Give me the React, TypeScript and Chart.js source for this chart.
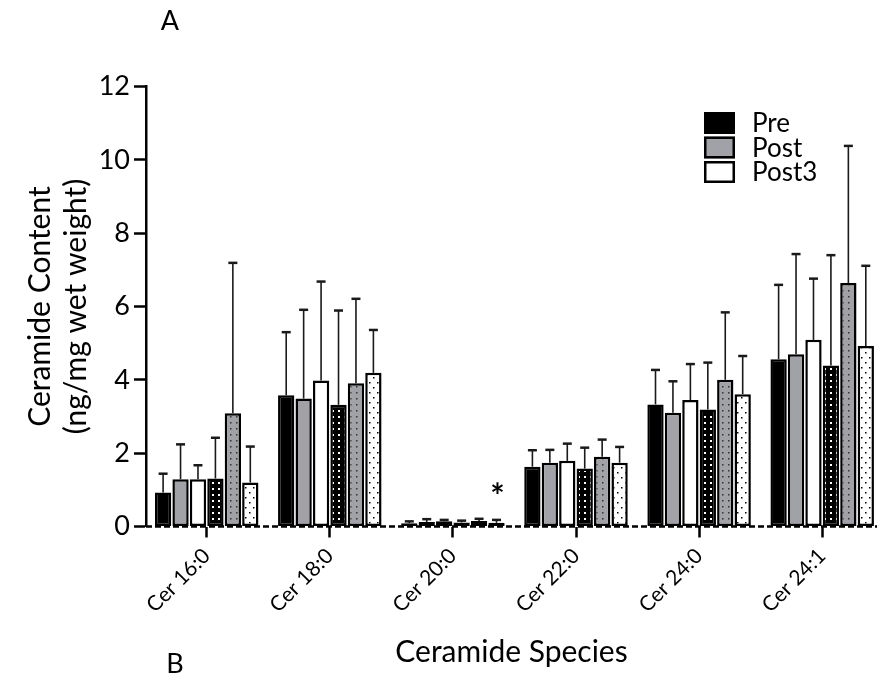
import { useEffect, useRef } from 'react';
import { Chart, registerables } from 'chart.js';

Chart.register(...registerables);

// ---- data ----
const categories = ['Cer 16:0', 'Cer 18:0', 'Cer 20:0', 'Cer 22:0', 'Cer 24:0', 'Cer 24:1'];
const timepoints = ['Pre', 'Post', 'Post3'];
const yTickValues = [0, 2, 4, 6, 8, 10, 12];

// group 1 (solid bars)
const preMean1 = [0.93, 3.58, 0.09, 1.63, 3.33, 4.56];
const postMean1 = [1.29, 3.49, 0.12, 1.74, 3.10, 4.70];
const post3Mean1 = [1.29, 3.98, 0.14, 1.79, 3.45, 5.09];
// group 2 (dotted bars)
const preMean2 = [1.31, 3.32, 0.11, 1.58, 3.19, 4.39];
const postMean2 = [3.09, 3.91, 0.15, 1.90, 4.00, 6.64];
const post3Mean2 = [1.20, 4.19, 0.10, 1.74, 3.61, 4.92];

// standard deviations (upper whiskers)
const preSd1 = [0.51, 1.72, 0.05, 0.45, 0.94, 2.03];
const postSd1 = [0.95, 2.42, 0.08, 0.35, 0.86, 2.73];
const post3Sd1 = [0.38, 2.70, 0.04, 0.47, 0.98, 1.67];
const preSd2 = [1.11, 2.57, 0.05, 0.57, 1.28, 3.01];
const postSd2 = [4.10, 2.30, 0.06, 0.47, 1.84, 3.74];
const post3Sd2 = [0.98, 1.17, 0.08, 0.43, 1.04, 2.19];

// significance marker: group 2 Post3, Cer 20:0
const starSeries = 5;
const starCategory = 2;

const seriesMeans = [preMean1, postMean1, post3Mean1, preMean2, postMean2, post3Mean2];
const seriesSds = [preSd1, postSd1, post3Sd1, preSd2, postSd2, post3Sd2];

// ---- styling ----
const FONT = 'Lato, "Open Sans", sans-serif';
const W = 877;
const H = 675;
const GRAY = '#a1a1a8';

function dotPattern(
  ctx: CanvasRenderingContext2D,
  bg: string,
  dot: string,
  tw: number,
  th: number,
  dots: Array<[number, number, number]>
) {
  const c = document.createElement('canvas');
  c.width = tw;
  c.height = th;
  const g = c.getContext('2d')!;
  g.fillStyle = bg;
  g.fillRect(0, 0, tw, th);
  g.fillStyle = dot;
  for (const [x, y, s] of dots) g.fillRect(x, y, s, s);
  return ctx.createPattern(c, 'repeat')!;
}

const baselinePlugin = {
  id: 'dashedBaseline',
  beforeDatasetsDraw(chart: any) {
    const { ctx, chartArea, scales } = chart;
    const y0 = scales.y.getPixelForValue(0);
    ctx.save();
    ctx.strokeStyle = '#000';
    ctx.lineWidth = 2.5;
    ctx.setLineDash([6, 3]);
    ctx.beginPath();
    ctx.moveTo(chartArea.left, y0);
    ctx.lineTo(chartArea.right, y0);
    ctx.stroke();
    ctx.restore();
  },
};

const errorBarPlugin = {
  id: 'errorBars',
  afterDatasetsDraw(chart: any) {
    const { ctx, scales } = chart;
    ctx.save();
    ctx.strokeStyle = '#1a1a1a';
    seriesMeans.forEach((means, d) => {
      const meta = chart.getDatasetMeta(d);
      meta.data.forEach((bar: any, i: number) => {
        const { x, y } = bar.getProps(['x', 'y'], true);
        const yEnd = scales.y.getPixelForValue(means[i] + seriesSds[d][i]);
        ctx.lineWidth = 1.6;
        ctx.beginPath();
        ctx.moveTo(x, y);
        ctx.lineTo(x, yEnd);
        ctx.stroke();
        ctx.lineWidth = 2.5;
        ctx.beginPath();
        ctx.moveTo(x - 4.5, yEnd);
        ctx.lineTo(x + 4.5, yEnd);
        ctx.stroke();
      });
    });
    ctx.restore();
  },
};

const annotationPlugin = {
  id: 'annotations',
  afterDraw(chart: any) {
    const { ctx, scales } = chart;
    ctx.save();
    ctx.fillStyle = '#000';

    // significance asterisk
    const bar = chart.getDatasetMeta(starSeries).data[starCategory];
    const top = scales.y.getPixelForValue(
      seriesMeans[starSeries][starCategory] + seriesSds[starSeries][starCategory]
    );
    ctx.font = `bold 34px ${FONT}`;
    ctx.textAlign = 'center';
    ctx.textBaseline = 'alphabetic';
    ctx.fillText('*', bar.x + 1, top - 12);

    // legend
    const lx = 704;
    const ly = 112;
    const bw = 31;
    const bh = 22;
    const step = 24.5;
    timepoints.forEach((name, k) => {
      const ds = chart.data.datasets[k];
      const by = ly + k * step;
      ctx.fillStyle = ds.backgroundColor;
      ctx.fillRect(lx, by, bw, bh);
      ctx.strokeStyle = '#000';
      ctx.lineWidth = 2.5;
      ctx.strokeRect(lx + 1.25, by + 1.25, bw - 2.5, bh - 2.5);
      ctx.fillStyle = '#000';
      ctx.font = `26px ${FONT}`;
      ctx.textAlign = 'left';
      ctx.textBaseline = 'middle';
      ctx.fillText(name, 752, by + bh / 2 + 1);
    });

    // panel letters
    ctx.font = `27px ${FONT}`;
    ctx.textAlign = 'center';
    ctx.textBaseline = 'middle';
    ctx.fillText('A', 170, 21);
    ctx.fillText('B', 175, 664);
    ctx.restore();
  },
};

export default function App() {
  const ref = useRef<HTMLCanvasElement>(null);

  useEffect(() => {
    const canvas = ref.current;
    if (!canvas) return;
    const ctx = canvas.getContext('2d')!;

    const fills = [
      '#000000',
      GRAY,
      '#ffffff',
      dotPattern(ctx, '#000000', '#ffffff', 6, 6, [[2, 2, 2]]),
      dotPattern(ctx, GRAY, '#333333', 6, 6, [[2, 2, 1.5]]),
      dotPattern(ctx, '#ffffff', '#000000', 8, 10, [[1, 2, 1.5], [5, 7, 1.5]]),
    ];

    // the category axis is linear so the bar groups can run to the right edge
    const left = 146;
    const unit = 123.1;
    const firstCenter = 206.7;
    const xMin = -(firstCenter - left) / unit;
    const xMax = xMin + (W - left) / unit;

    const chart = new Chart(ctx, {
      type: 'bar',
      data: {
        datasets: seriesMeans.map((means, d) => ({
          label: timepoints[d % 3],
          data: means.map((v, i) => ({ x: i, y: v })),
          backgroundColor: fills[d],
          borderColor: '#000',
          borderWidth: 2.5,
          borderSkipped: false,
          categoryPercentage: 0.85,
          barPercentage: 0.935,
        })),
      },
      options: {
        animation: false,
        responsive: false,
        devicePixelRatio: 1,
        layout: { padding: { top: 86.5, left: 0, right: 0, bottom: 0 } },
        plugins: { legend: { display: false }, tooltip: { enabled: false } },
        scales: {
          x: {
            type: 'linear',
            min: xMin,
            max: xMax,
            bounds: 'data',
            offset: false,
            afterBuildTicks: (axis: any) => {
              axis.ticks = categories.map((_, i) => ({ value: i }));
            },
            afterFit: (axis: any) => {
              axis.height = H - 526.5;
            },
            grid: {
              offset: false,
              drawOnChartArea: false,
              drawTicks: true,
              tickLength: 11,
              tickWidth: 2.5,
              tickColor: '#000',
            },
            border: { display: false },
            ticks: {
              autoSkip: false,
              minRotation: 45,
              maxRotation: 45,
              padding: 6,
              color: '#000',
              font: { family: FONT, size: 21 },
              callback: (v: any) => categories[v] ?? '',
            },
            title: {
              display: true,
              text: 'Ceramide Species',
              color: '#000',
              font: { family: FONT, size: 30 },
              padding: { top: 0, bottom: 5 },
            },
          },
          y: {
            min: 0,
            max: 12,
            afterBuildTicks: (axis: any) => {
              axis.ticks = yTickValues.map((value) => ({ value }));
            },
            afterFit: (axis: any) => {
              axis.width = left;
            },
            grid: {
              drawOnChartArea: false,
              tickLength: 12,
              tickWidth: 2.5,
              tickColor: '#000',
            },
            border: { display: true, color: '#000', width: 2.5 },
            ticks: {
              padding: 4,
              color: '#000',
              font: { family: FONT, size: 27 },
            },
            title: {
              display: true,
              text: ['Ceramide Content', '(ng/mg wet weight)'],
              color: '#000',
              font: { family: FONT, size: 30, lineHeight: 36 / 30 },
              padding: { top: 22, bottom: 0 },
            },
          },
        },
      } as any,
      plugins: [baselinePlugin, errorBarPlugin, annotationPlugin],
    });

    return () => chart.destroy();
  }, []);

  return (
    <canvas
      ref={ref}
      width={W}
      height={H}
      style={{ position: 'fixed', left: 0, top: 0, display: 'block', background: '#fff' }}
    />
  );
}
